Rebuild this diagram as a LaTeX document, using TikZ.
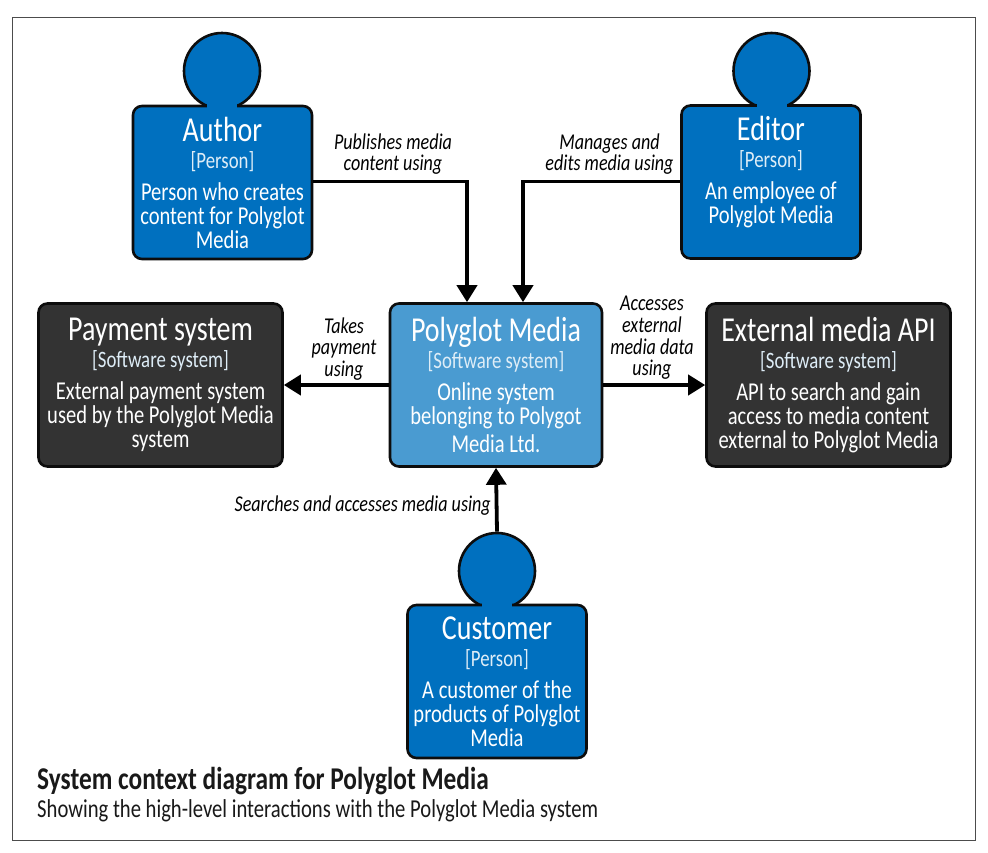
\documentclass[tikz,border=0pt]{standalone}
\usepackage{fontspec}
\setmainfont[FakeStretch=0.8]{Carlito}
\usetikzlibrary{arrows.meta}
\definecolor{pblue}{HTML}{0070BF}
\definecolor{sblue}{HTML}{4A9BD1}
\definecolor{ext}{HTML}{333333}
\definecolor{edge}{HTML}{0D0D0D}
\newcommand{\ttl}[1]{{\fontsize{35}{34}\selectfont #1}}
\newcommand{\tagl}[1]{{\fontsize{23.5}{24}\selectfont\color{white!82!sblue} #1}}
\tikzset{
  cbox/.style={draw=edge,line width=2.6pt,rounded corners=9pt,text=white,align=center,inner sep=0pt,
    font=\fontsize{25.7}{24}\selectfont},
  person/.style={cbox,fill=pblue,minimum width=179pt,minimum height=153pt},
  head/.style={circle,draw=edge,line width=2.6pt,fill=pblue,minimum size=76pt,inner sep=0pt},
  neck/.style={fill=pblue,draw=none,minimum width=30pt,minimum height=12pt,inner sep=0pt},
  link/.style={draw=black,line width=3.8pt,-{Triangle[length=17pt,width=20pt]}},
  lbl/.style={font=\fontsize{22.6}{21.7}\selectfont\itshape,align=center,text=black,inner sep=0pt},
}
\begin{document}
\begin{tikzpicture}[x=1pt,y=-1pt]
\useasboundingbox (0,0) rectangle (988,852);
\fill[white] (0,0) rectangle (988,852);
\node[draw=black!70,line width=1pt,minimum width=963pt,minimum height=823pt,inner sep=0pt] (frame) at (493.5,428.5) {};

\node[head] (authorhead) at (222,71) {};
\node[person] (author) at (222.5,182.5) {\ttl{Author}\\[3pt]\tagl{[Person]}\\[8pt]Person who creates\\content for Polyglot\\Media};
\node[neck] (authorneck) at (222,104) {};

\node[head] (editorhead) at (771.5,71) {};
\node[person] (editor) at (771,182) {\ttl{Editor}\\[3pt]\tagl{[Person]}\\[8pt]An employee of\\Polyglot Media\\~};
\node[neck] (editorneck) at (771.5,103) {};

\node[cbox,fill=ext,minimum width=244pt,minimum height=163pt] (payment) at (160.5,385) {\ttl{Payment system}\\[3pt]\tagl{[Software system]}\\[8pt]External payment system\\used by the Polyglot Media\\system};
\node[cbox,fill=sblue,minimum width=212pt,minimum height=163pt] (polyglot) at (496,385) {\ttl{Polyglot Media}\\[3pt]\tagl{[Software system]}\\[8pt]Online system\\belonging to Polygot\\[4pt]Media Ltd.};
\node[cbox,fill=ext,minimum width=244pt,minimum height=163pt] (external) at (828.5,385) {\ttl{External media API}\\[3pt]\tagl{[Software system]}\\[8pt]API to search and gain\\access to media content\\external to Polyglot Media};

\node[head] (customerhead) at (497,571) {};
\node[person] (customer) at (497,681.5) {\ttl{Customer}\\[3pt]\tagl{[Person]}\\[8pt]A customer of the\\products of Polyglot\\Media};
\node[neck] (customerneck) at (497,603) {};

\coordinate (authorturn) at (467,181.5);
\coordinate (editorturn) at (523,181.5);
\draw[link] (author.east |- authorturn) -- (authorturn) -- (authorturn |- polyglot.north);
\draw[link] (editor.west |- editorturn) -- (editorturn) -- (editorturn |- polyglot.north);
\draw[link] (polyglot.west) -- (payment.east);
\draw[link] (polyglot.east) -- (external.west);
\draw[link] (customerhead.north) -- (polyglot.south);

\node[lbl] (l1) at (393,154) {Publishes media\\content using};
\node[lbl] (l2) at (609.5,154) {Manages and\\edits media using};
\node[lbl] (l3) at (344,349) {Takes\\payment\\using};
\node[lbl] (l4) at (652,338) {Accesses\\external\\media data\\using};
\node[lbl,anchor=east] (l5) at (491,506) {Searches and accesses media using};

\node[anchor=west,inner sep=0pt,font=\fontsize{31.7}{30}\selectfont\bfseries,text=black!90] (title) at (37,781) {System context diagram for Polyglot Media};
\node[anchor=west,inner sep=0pt,font=\fontsize{25.8}{24}\selectfont,text=black!90] (subtitle) at (37,811) {Showing the high-level interactions with the Polyglot Media system};
\end{tikzpicture}
\end{document}
